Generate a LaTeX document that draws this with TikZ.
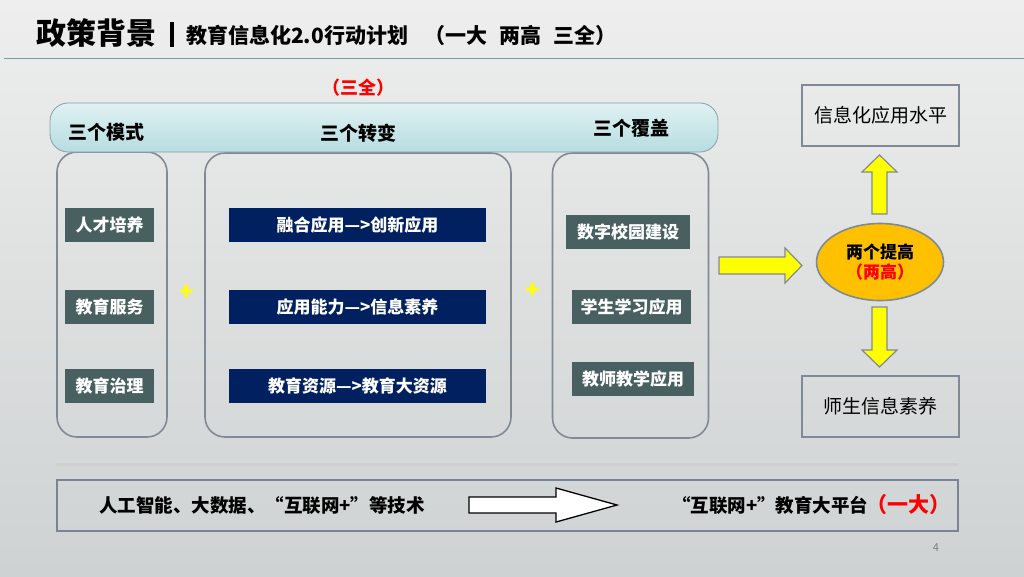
\documentclass[tikz,border=0pt]{standalone}
\usepackage{fontspec}
\setmainfont{Noto Sans CJK SC}
\usetikzlibrary{shapes.geometric}
\definecolor{bgtop}{RGB}{238,238,238}
\definecolor{bgbot}{RGB}{206,210,210}
\definecolor{bartop}{RGB}{224,241,243}
\definecolor{barbot}{RGB}{182,221,224}
\definecolor{barline}{RGB}{135,160,165}
\definecolor{panelline}{RGB}{128,138,150}
\definecolor{slate}{RGB}{73,96,96}
\definecolor{navy}{RGB}{0,32,96}
\definecolor{yel}{RGB}{255,255,0}
\definecolor{orng}{RGB}{255,192,0}
\definecolor{tline}{RGB}{120,155,160}
\definecolor{redtxt}{RGB}{255,0,0}
\definecolor{sepline}{RGB}{208,208,208}
\definecolor{boxline}{RGB}{122,132,148}
\begin{document}
\begin{tikzpicture}[x=1pt,y=-1pt,
  fs/.style={font=\bfseries\fontsize{#1}{#1}\selectfont},
  panel/.style={draw=panelline, line width=1.6pt, rounded corners=20pt, inner sep=0pt},
  slatebox/.style={fill=slate, text=white, inner sep=0pt, minimum height=34pt, fs=17},
  navybox/.style={fill=navy, text=white, inner sep=0pt, minimum width=257pt, minimum height=34pt, fs=17},
  infobox/.style={draw=panelline, line width=1.6pt, minimum width=157pt, minimum height=61pt, inner sep=0pt, font=\fontsize{19}{19}\selectfont},
  yarrow/.style={fill=yel, draw=panelline, line width=1.2pt, line join=miter},
  label/.style={fs=19, inner sep=0pt}
]
\useasboundingbox (0,0) rectangle (1024,576);
\shade[top color=bgtop, bottom color=bgbot] (0,0) rectangle (1024,576);

% title
\node[fs=30, inner sep=0pt] (title) at (96,33) {政策背景};
\node[fill=black, minimum width=3.5pt, minimum height=25pt, inner sep=0pt] (tbar) at (172,34) {};
\node[fs=21, anchor=west, inner sep=0pt] (subtitle) at (186,35) {教育信息化2.0行动计划\hspace{16pt}（一大\hspace{12pt}两高\hspace{12pt}三全）};
\coordinate (tl1) at (4,58);
\coordinate (tl2) at (1024,58);
\draw[tline, line width=1pt] (tl1) -- (tl2);

% (三全)
\node[fs=18, text=redtxt, inner sep=0pt] (sanquan) at (358,88) {（三全）};

% panels
\node[panel, minimum width=110pt, minimum height=285pt] (pleft) at (112,294.5) {};
\node[panel, minimum width=306pt, minimum height=284pt] (pmid) at (358,295) {};
\node[panel, minimum width=156pt, minimum height=285pt] (pright) at (630.5,295.5) {};

% top bar
\node[draw=barline, line width=0.8pt, top color=bartop, bottom color=barbot, rounded corners=18pt,
      minimum width=668pt, minimum height=49pt, inner sep=0pt] (topbar) at (384,127.5) {};
\node[label] (l1) at (106,132) {三个模式};
\node[label] (l2) at (358,133) {三个转变};
\node[label] (l3) at (631,128) {三个覆盖};

% left boxes
\node[slatebox, minimum width=89pt] (a1) at (109.5,225) {人才培养};
\node[slatebox, minimum width=89pt] (a2) at (109.5,306.5) {教育服务};
\node[slatebox, minimum width=89pt] (a3) at (109.5,385.5) {教育治理};

% middle boxes
\node[navybox] (b1) at (357.5,225) {融合应用—>创新应用};
\node[navybox] (b2) at (357.5,306.5) {应用能力—>信息素养};
\node[navybox] (b3) at (357.5,386) {教育资源—>教育大资源};

% right boxes
\node[slatebox, minimum width=124pt] (c1) at (628,232) {数字校园建设};
\node[slatebox, minimum width=119pt] (c2) at (631.5,306.5) {学生学习应用};
\node[slatebox, minimum width=122pt] (c3) at (633,379) {教师教学应用};

% plus signs
\node[fs=24, text=yel, inner sep=0pt] (plus1) at (187,293) {+};
\node[fs=24, text=yel, inner sep=0pt] (plus2) at (533,291) {+};

% right side
\node[ellipse, fill=orng, draw=panelline, line width=1.6pt, minimum width=127pt, minimum height=77pt,
      inner sep=0pt, align=center, fs=17] (ell) at (880,262)
      {两个提高\\[3pt]{\color{redtxt}（两高）}};
\node[infobox] (info1) at (880.5,115.5) {信息化应用水平};
\node[infobox] (info2) at (880.5,406.5) {师生信息素养};

% yellow block arrows
\draw[yarrow] (719,257) -- (785,257) -- (785,248) -- (802,265.5) -- (785,283) -- (785,274) -- (719,274) -- cycle;
\draw[yarrow] (872,214) -- (872,172) -- (862,172) -- (879.5,155) -- (897,172) -- (887,172) -- (887,214) -- cycle;
\draw[yarrow] (872,307) -- (872,350) -- (862,350) -- (879.5,367) -- (897,350) -- (887,350) -- (887,307) -- cycle;

% bottom
\coordinate (s1) at (56,464);
\coordinate (s2) at (958,464);
\draw[sepline, line width=3pt] (s1) -- (s2);
\node[draw=boxline, line width=1.8pt, minimum width=901pt, minimum height=51pt, inner sep=0pt] (bottombox) at (507.5,505.5) {};
\node[fs=18.5, anchor=west, inner sep=0pt] (tech) at (99,505) {人工智能、大数据、“互联网+”等技术};
\draw[fill=white, draw=black, line width=1.3pt, line join=miter]
  (469,497) -- (556,497) -- (556,488) -- (617,505) -- (556,522) -- (556,513) -- (469,513) -- cycle;
\node[fs=18.5, anchor=west, inner sep=0pt] (plat) at (672,505) {“互联网+”教育大平台};
\node[fs=21, anchor=west, inner sep=0pt, text=redtxt] (yida) at (866,505) {（一大）};
\node[font=\fontsize{11}{11}\selectfont, text=gray, inner sep=0pt] (pnum) at (936,548) {4};
\end{tikzpicture}
\end{document}
